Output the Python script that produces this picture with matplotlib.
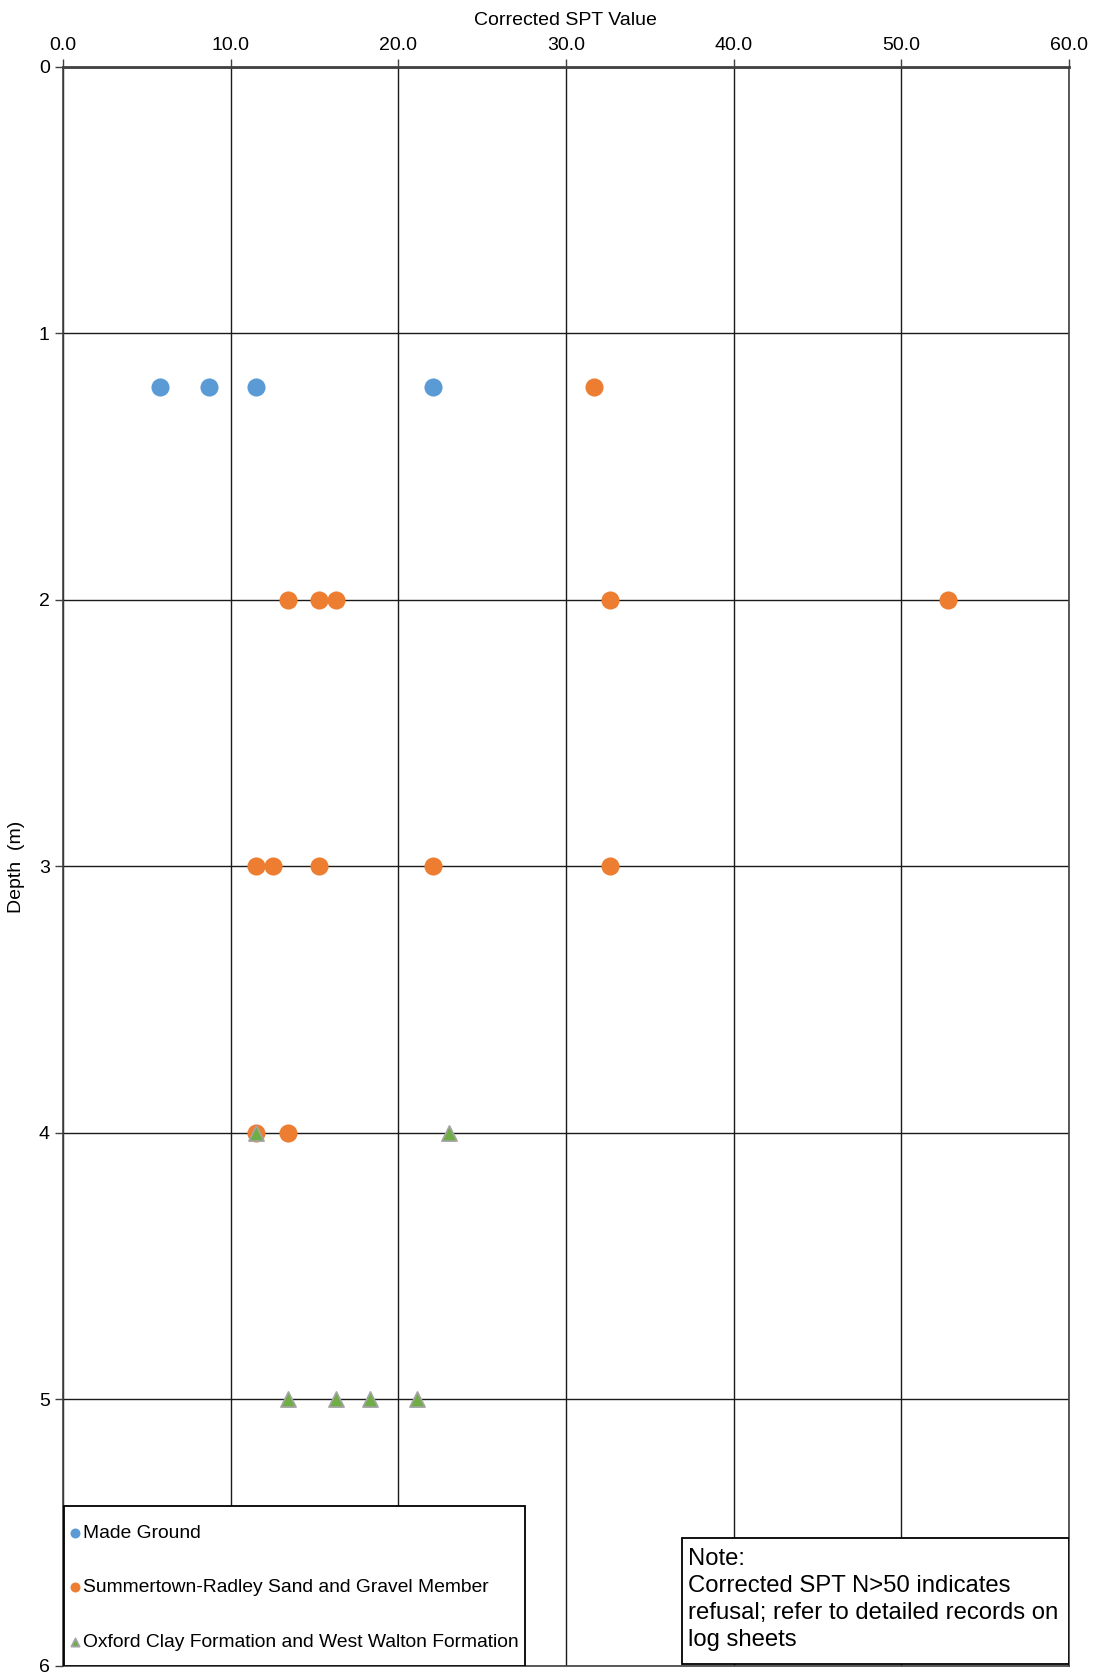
import matplotlib.pyplot as plt
from matplotlib.patches import Rectangle
from matplotlib.ticker import FormatStrFormatter

plt.rcParams["font.family"] = ["Liberation Sans", "DejaVu Sans"]

# corrected SPT values against depth (m)
made_ground_spt = [5.8, 8.7, 11.5, 22.1]
made_ground_depth = [1.2, 1.2, 1.2, 1.2]

sand_gravel_spt = [31.7, 13.4, 15.3, 16.3, 32.6, 52.8, 11.5, 12.5, 15.3, 22.1, 32.6, 11.5, 13.4]
sand_gravel_depth = [1.2, 2, 2, 2, 2, 2, 3, 3, 3, 3, 3, 4, 4]

oxford_clay_spt = [11.5, 23.0, 13.4, 16.3, 18.3, 21.1]
oxford_clay_depth = [4, 4, 5, 5, 5, 5]

labels = [
    "Made Ground",
    "Summertown-Radley Sand and Gravel Member",
    "Oxford Clay Formation and West Walton Formation",
]
note_text = "Note:\nCorrected SPT N>50 indicates\nrefusal; refer to detailed records on\nlog sheets"


def main() -> None:
    fig = plt.figure(figsize=(10.94, 16.73), dpi=100)
    ax = fig.add_axes([0.0576, 0.0042, 0.9194, 0.9558])

    ax.scatter(made_ground_spt, made_ground_depth, s=170, color="#5B9BD5",
               marker="o", linewidths=0, zorder=3, label=labels[0])
    ax.scatter(sand_gravel_spt, sand_gravel_depth, s=170, color="#ED7D31",
               marker="o", linewidths=0, zorder=3, label=labels[1])
    ax.scatter(oxford_clay_spt, oxford_clay_depth, s=120, color="#70AD47",
               marker="^", edgecolors="#A5A5A5", linewidths=1.2, zorder=4,
               label=labels[2])

    ax.set_xlim(0, 60)
    ax.set_ylim(6, 0)
    ax.set_xticks(range(0, 61, 10))
    ax.set_yticks(range(0, 7))
    ax.xaxis.set_major_formatter(FormatStrFormatter("%.1f"))
    ax.xaxis.tick_top()
    ax.xaxis.set_label_position("top")
    ax.set_xlabel("Corrected SPT Value", fontsize=14, labelpad=9)
    ax.set_ylabel("Depth  (m)", fontsize=14, labelpad=10)
    ax.tick_params(axis="both", labelsize=14, length=6, width=1, color="#404040")
    ax.tick_params(axis="x", pad=3)

    ax.grid(True, color="#1a1a1a", linewidth=1)
    ax.set_axisbelow(True)
    for side in ax.spines.values():
        side.set_color("#404040")
        side.set_linewidth(1.2)
    ax.spines["top"].set_linewidth(2)

    # legend box drawn as its own rectangle so its size stays fixed
    ax.add_patch(Rectangle((0.001, 0.0), 0.458, 0.1, transform=ax.transAxes,
                           facecolor="white", edgecolor="black", linewidth=1.3,
                           zorder=5))
    ax.legend(loc="upper left", bbox_to_anchor=(0.001, 0.091), borderaxespad=0,
              fontsize=13.9, markerscale=0.55, handletextpad=0.1,
              handlelength=0.7, labelspacing=1.92, borderpad=0.2,
              frameon=False).set_zorder(6)

    # note box
    ax.add_patch(Rectangle((0.615, 0.001), 0.385, 0.079, transform=ax.transAxes,
                           facecolor="white", edgecolor="black", linewidth=1.3,
                           zorder=5))
    ax.text(0.621, 0.0735, note_text, transform=ax.transAxes, fontsize=17.2,
            ha="left", va="top", linespacing=1.29, zorder=6)

    fig.savefig("out.png", dpi=100)


if __name__ == "__main__":
    main()
